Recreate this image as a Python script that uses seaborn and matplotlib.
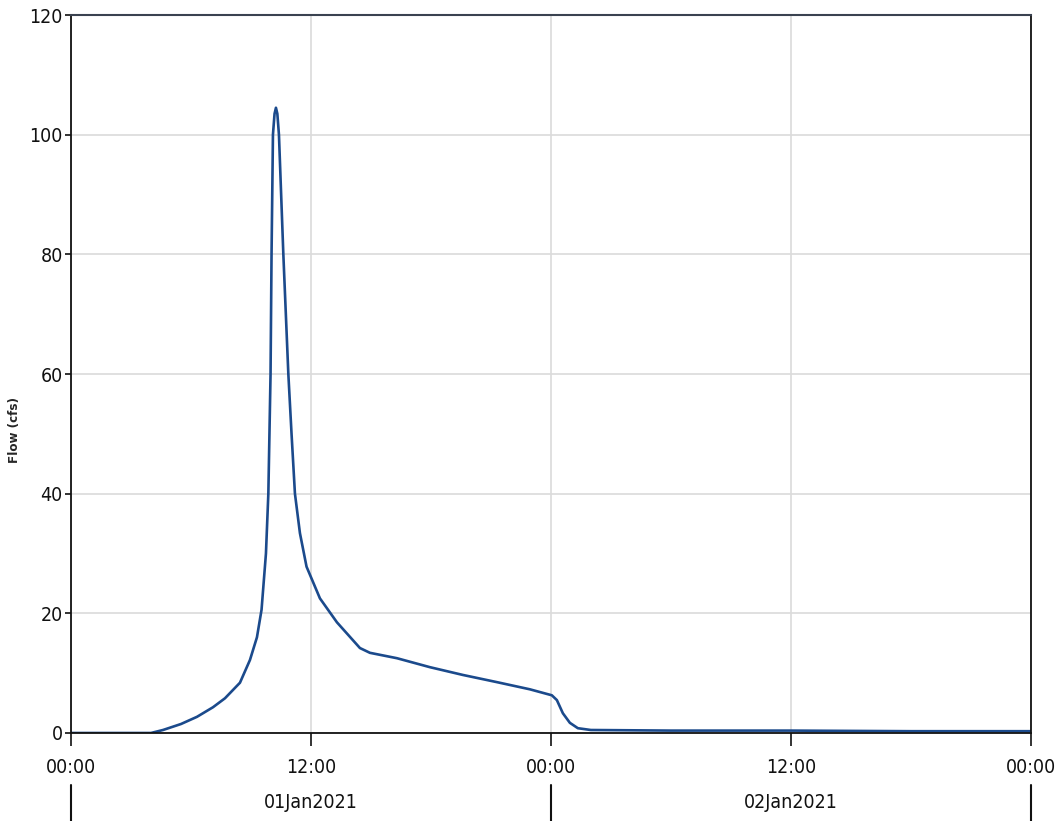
import matplotlib
matplotlib.use("Agg")
import matplotlib.pyplot as plt
import matplotlib.transforms as mtransforms
import seaborn as sns
import pandas as pd

# hydrograph (hours since 01Jan2021 00:00, flow in cfs)
hours = [0, 4.0, 4.6, 5.5, 6.3, 7.1, 7.7, 8.45, 8.95, 9.3, 9.53, 9.75, 9.87, 9.98, 10.03,
         10.1, 10.18, 10.25, 10.32, 10.4, 10.62, 10.87, 11.03, 11.2, 11.45, 11.78, 12.45,
         13.3, 14.45, 14.95, 16.3, 17.95, 19.6, 21.3, 22.95, 24.05, 24.3, 24.6, 24.95,
         25.35, 26, 30, 36, 42, 48]
flow = [0, 0, 0.5, 1.5, 2.7, 4.3, 5.8, 8.4, 12.2, 16.0, 20.6, 30, 40, 60, 80,
        100, 103.5, 104.5, 103.5, 100, 80, 60, 50, 40, 33.4, 27.8, 22.5,
        18.5, 14.2, 13.4, 12.5, 11.0, 9.7, 8.5, 7.3, 6.3, 5.5, 3.3, 1.7,
        0.8, 0.5, 0.4, 0.4, 0.3, 0.3]

x_ticks = [0, 12, 24, 36, 48]
x_labels = ["00:00", "12:00", "00:00", "12:00", "00:00"]
day_pos = [12, 36]
day_labels = ["01Jan2021", "02Jan2021"]
day_breaks = [0, 24, 48]
y_ticks = [0, 20, 40, 60, 80, 100, 120]

df = pd.DataFrame({"hours": hours, "flow": flow})

sns.set_style("white")
plt.rcParams["font.family"] = ["DejaVu Sans"]
plt.rcParams["font.stretch"] = "condensed"

fig = plt.figure(figsize=(10.55, 8.21), dpi=100)
ax = fig.add_axes([0.0673, 0.1072, 0.9097, 0.8745])

sns.lineplot(data=df, x="hours", y="flow", color="#1b4a8c", linewidth=1.9, ax=ax)

ax.set_xlim(0, 48)
ax.set_ylim(0, 120)
ax.set_xticks(x_ticks)
ax.set_xticklabels(x_labels, fontsize=14)
ax.set_yticks(y_ticks)
ax.set_yticklabels([str(v) for v in y_ticks], fontsize=14)
ax.tick_params(axis="x", bottom=True, direction="out", length=9, width=1.2, pad=9, colors="#111111")
ax.tick_params(axis="y", left=True, direction="out", length=4, width=1.2, pad=2, colors="#111111")

ax.grid(True, color="#dadada", linewidth=1.2)
ax.set_axisbelow(True)
for side in ["left", "bottom", "right"]:
    ax.spines[side].set_color("#111111")
    ax.spines[side].set_linewidth(1.3)
ax.spines["top"].set_color("#3a4250")
ax.spines["top"].set_linewidth(1.5)

ax.set_xlabel("")
ax.set_ylabel("Flow (cfs)", fontsize=9.5, fontweight="bold")
ax.yaxis.set_label_coords(-0.052, 0.422)

# second row: day labels and separators
trans = mtransforms.blended_transform_factory(ax.transData, ax.transAxes)
for pos, lab in zip(day_pos, day_labels):
    ax.text(pos, -0.0975, lab, transform=trans, ha="center", va="center", fontsize=14, color="#111111")
for b in day_breaks:
    ax.plot([b, b], [-0.072, -0.125], transform=trans, color="#111111", linewidth=1.5, clip_on=False)

fig.savefig("out.png", dpi=100, facecolor="white")
